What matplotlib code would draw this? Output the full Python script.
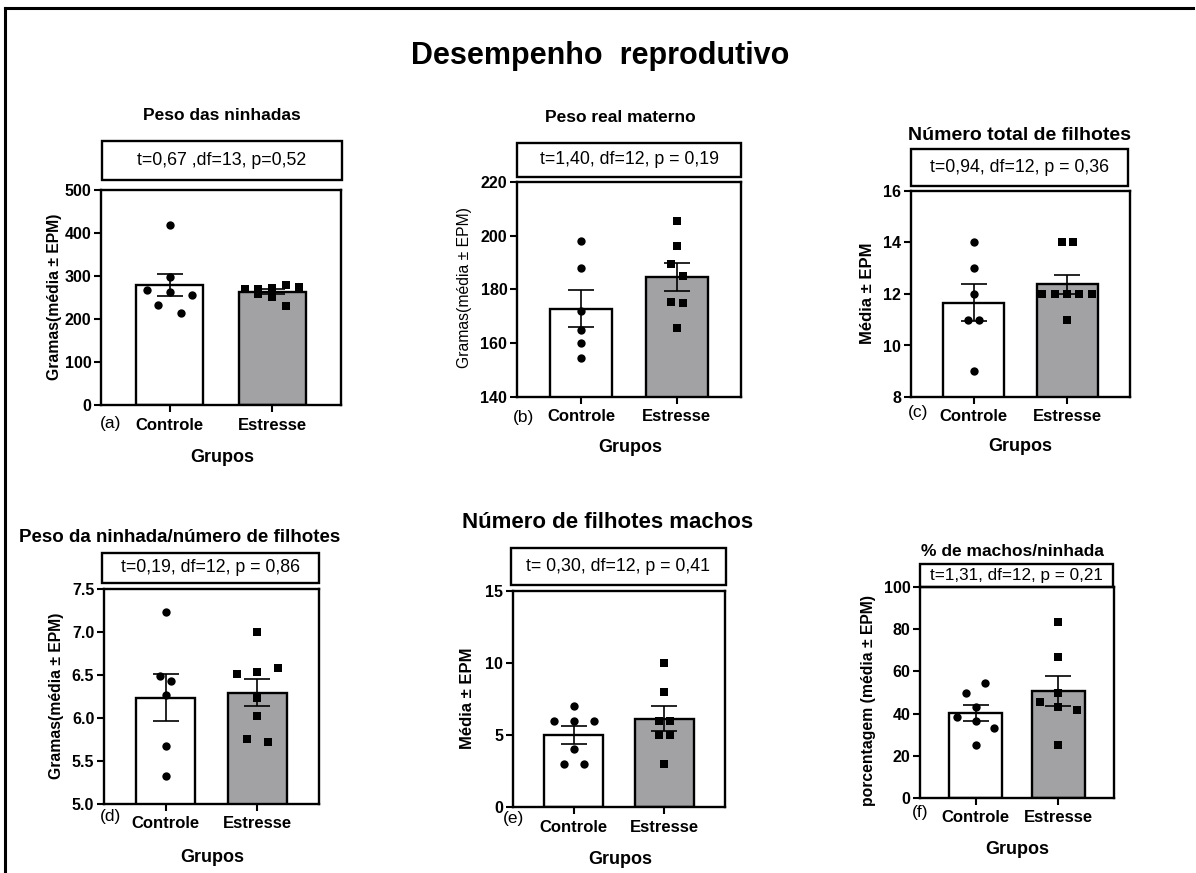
import matplotlib
matplotlib.use('Agg')
import matplotlib.pyplot as plt
import numpy as np
from matplotlib.patches import Rectangle
from matplotlib.lines import Line2D

# ---------------- data ----------------
groups = ['Controle', 'Estresse']

a_ctrl = [267, 418, 297, 262, 233, 215, 256]
a_str = [270, 269, 258, 271, 252, 279, 230, 275]

b_ctrl = [198, 188, 172, 165, 160, 154.5]
b_str = [205.5, 196, 189.5, 185, 175.5, 175, 165.5]

c_ctrl = [14, 13, 12, 11, 11, 9]
c_str = [14, 14, 12, 12, 12, 12, 12, 11]

d_ctrl = [7.23, 6.49, 6.43, 6.27, 5.67, 5.33]
d_str = [7.0, 6.51, 6.53, 6.58, 6.23, 6.02, 5.76, 5.72]

e_ctrl = [7, 6, 6, 6, 4, 3, 3]
e_str = [10, 8, 6, 6, 5, 5, 3]

f_ctrl = [54.5, 50, 42.9, 38.5, 36.4, 33.3, 25]
f_str = [83.3, 66.7, 50, 45.7, 42.9, 41.7, 25]

titles = ['Peso das ninhadas', 'Peso real materno', 'Número total de filhotes',
          'Peso da ninhada/número de filhotes', 'Número de filhotes machos',
          '% de machos/ninhada']
stats = ['t=0,67 ,df=13, p=0,52', 't=1,40, df=12, p = 0,19', 't=0,94, df=12, p = 0,36',
         't=0,19, df=12, p = 0,86', 't= 0,30, df=12, p = 0,41', 't=1,31, df=12, p = 0,21']
ylabels = ['Gramas(média ± EPM)', 'Gramas(média ± EPM)', 'Média ± EPM',
           'Gramas(média ± EPM)', 'Média ± EPM', 'porcentagem (média ± EPM)']
letters = ['(a)', '(b)', '(c)', '(d)', '(e)', '(f)']
yticks_list = [[0, 100, 200, 300, 400, 500], [140, 160, 180, 200, 220], [8, 10, 12, 14, 16],
               [5.0, 5.5, 6.0, 6.5, 7.0, 7.5], [0, 5, 10, 15], [0, 20, 40, 60, 80, 100]]
main_title = 'Desempenho  reprodutivo'
xlabel = 'Grupos'

# ---------------- layout (pixels) ----------------
W, H = 1196, 873
# swarm offsets (x, in category units) for each point
offs = {
    'a': ([-0.22, 0, 0, 0, -0.11, 0.11, 0.22], [-0.27, -0.14, -0.14, 0, 0, 0.13, 0.13, 0.26]),
    'b': ([0, 0, 0, 0, 0, 0], [0, 0, -0.06, 0.06, -0.06, 0.06, 0]),
    'c': ([0, 0, 0, -0.06, 0.06, 0], [-0.06, 0.065, -0.27, -0.135, 0, 0.13, 0.265, 0]),
    'd': ([0, -0.06, 0.06, 0, 0, 0], [0, -0.22, 0, 0.22, 0, 0, -0.11, 0.11]),
    'e': ([0, -0.22, 0, 0.22, 0, -0.11, 0.11], [0, 0, -0.06, 0.06, -0.06, 0.06, 0]),
    'f': ([0.11, -0.11, 0, -0.22, 0, 0.22, 0], [0, 0, 0, -0.22, 0, 0.22, 0]),
}
ax_px = [(101, 341, 190, 405), (517, 741, 182, 397), (911, 1130, 191, 397),
         (104, 319, 589, 804), (513, 725, 591, 807), (920, 1114, 587, 798)]
box_px = [(102, 342, 141, 180), (517, 741, 143, 177), (911, 1128, 149, 186),
          (102, 319, 553, 583), (511, 726, 548, 585), (920, 1113, 564, 587)]
title_px = [(222, 115), (620, 118), (1020, 135), (180, 537), (608, 523), (1012, 552)]
title_fs = [12.5, 12.5, 14, 13.5, 16, 12.5]
stat_fs = [12.8, 12.8, 12.8, 12.8, 12.8, 12.3]
ylab_px = [(55, 297), (465, 288), (867, 293), (57, 696), (467, 698), (868, 700)]
ylab_fs = [11.3, 11.3, 12, 11.3, 12, 11.3]
xlab_px = [(222, 458), (630, 448), (1020, 447), (212, 858), (620, 860), (1017, 850)]
let_px = [(111, 423), (523, 417), (918, 413), (111, 817), (514, 818), (920, 813)]

plt.rcParams['font.family'] = ['Liberation Sans', 'DejaVu Sans']


def fx(p):
    return p / W


def fy(p):
    return 1 - p / H


fig = plt.figure(figsize=(W / 100, H / 100), dpi=100)
fig.patch.set_facecolor('white')

# outer frame
fig.add_artist(Line2D([fx(5), fx(5)], [fy(8), -0.05], color='black', lw=2.2, transform=fig.transFigure))
fig.add_artist(Line2D([fx(5), fx(1193)], [fy(8), fy(8)], color='black', lw=2.2, transform=fig.transFigure))

fig.text(fx(600), fy(56), main_title, ha='center', va='center', fontsize=22, fontweight='bold')

data = [(a_ctrl, a_str), (b_ctrl, b_str), (c_ctrl, c_str), (d_ctrl, d_str), (e_ctrl, e_str), (f_ctrl, f_str)]
keys = ['a', 'b', 'c', 'd', 'e', 'f']
fills = ['white', '#a2a2a5']
markers = ['o', 's']

for i, (ctrl, strs) in enumerate(data):
    l, r, t, b = ax_px[i]
    ax = fig.add_axes([fx(l), fy(b), (r - l) / W, (b - t) / H])
    for j, vals in enumerate([ctrl, strs]):
        v = np.asarray(vals, dtype=float)
        m = v.mean()
        sem = v.std(ddof=1) / np.sqrt(len(v))
        ax.bar(j, m, width=0.65, color=fills[j], edgecolor='black', linewidth=1.7, zorder=2)
        ax.errorbar(j, m, yerr=sem, fmt='none', ecolor='black', elinewidth=1.2,
                    capsize=9.5, capthick=1.2, zorder=3)
        xo = j + np.asarray(offs[keys[i]][j])
        ax.scatter(xo, v, marker=markers[j], s=36, color='black', zorder=4, linewidths=0)
    ax.set_xlim(-0.67, 1.67)
    yt = yticks_list[i]
    ax.set_ylim(yt[0], yt[-1])
    ax.set_yticks(yt)
    if i == 3:
        ax.set_yticklabels([f'{y:.1f}' for y in yt])
    ax.set_xticks([0, 1])
    ax.set_xticklabels(groups)
    for sp in ax.spines.values():
        sp.set_linewidth(1.7)
    ax.tick_params(axis='both', length=5, width=1.5, pad=2)
    ax.tick_params(axis='x', pad=4)
    for lab in ax.get_yticklabels():
        lab.set_fontweight('bold')
        lab.set_fontsize(11.5)
    for lab in ax.get_xticklabels():
        lab.set_fontweight('bold')
        lab.set_fontsize(12)

    # stat box
    bl, br, bt, bb = box_px[i]
    fig.add_artist(Rectangle((fx(bl), fy(bb)), (br - bl) / W, (bb - bt) / H, fill=False,
                             edgecolor='black', lw=1.7, transform=fig.transFigure))
    fig.text(fx((bl + br) / 2), fy((bt + bb) / 2), stats[i], ha='center', va='center',
             fontsize=stat_fs[i])

    fig.text(fx(title_px[i][0]), fy(title_px[i][1]), titles[i], ha='center', va='center',
             fontsize=title_fs[i], fontweight='bold')
    fig.text(fx(ylab_px[i][0]), fy(ylab_px[i][1]), ylabels[i], ha='center', va='center',
             rotation=90, fontsize=ylab_fs[i], fontweight='bold' if i != 1 else 'normal')
    fig.text(fx(xlab_px[i][0]), fy(xlab_px[i][1]), xlabel, ha='center', va='center',
             fontsize=13, fontweight='bold')
    fig.text(fx(let_px[i][0]), fy(let_px[i][1]), letters[i], ha='center', va='center', fontsize=12.5)

fig.savefig('out.png', dpi=100)
